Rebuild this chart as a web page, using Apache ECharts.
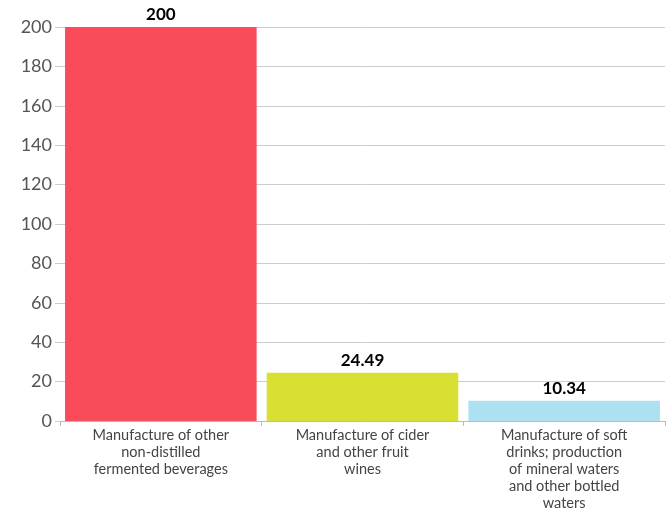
<!DOCTYPE html>
<html><head><meta charset="utf-8">
<script src="https://cdn.jsdelivr.net/npm/echarts@6/dist/echarts.min.js"></script>
<style>html,body{margin:0;padding:0;background:#fff}#c{width:671px;height:512px}</style>
</head><body><div id="c"></div>
<script>
const categories = ["Manufacture of other non-distilled fermented beverages", "Manufacture of cider and other fruit wines", "Manufacture of soft drinks; production of mineral waters and other bottled waters"];
const categoryLabels = ["Manufacture of other\nnon-distilled\nfermented beverages", "Manufacture of cider\nand other fruit\nwines", "Manufacture of soft\ndrinks; production\nof mineral waters\nand other bottled\nwaters"];
const values = [200, 24.49, 10.34];
const colors = ["#fa4b5a", "#d9e032", "#ade1f2"];
const yTicks = [0, 20, 40, 60, 80, 100, 120, 140, 160, 180, 200];

const chart = echarts.init(document.getElementById('c'));
chart.setOption({
  animation: false,
  grid: {left: 60, right: 6, top: 27, bottom: 88},
  xAxis: {
    type: 'category', data: categories,
    axisLine: {lineStyle: {color: '#bbb'}},
    axisTick: {show: true, lineStyle: {color: '#bbb'}, length: 5},
    axisLabel: {interval: 0, color: '#444', fontSize: 14.5, lineHeight: 17, fontFamily: 'Lato', margin: 6,
      formatter: (v, i) => categoryLabels[categories.indexOf(v)]}
  },
  yAxis: {
    type: 'value', min: 0, max: 200, interval: 20,
    axisLine: {show: false},
    axisTick: {show: true, length: 5, lineStyle: {color: '#ccc'}},
    splitLine: {lineStyle: {color: '#ccc'}},
    axisLabel: {color: '#555', fontSize: 18, fontFamily: 'Lato', margin: 8,
      formatter: v => yTicks.includes(v) ? String(v) : ''}
  },
  series: [{
    type: 'bar', barCategoryGap: '5%',
    data: values.map((v, i) => ({value: v, itemStyle: {color: colors[i]}})),
    label: {show: true, position: 'top', color: '#000', fontWeight: 'bold', fontSize: 17, fontFamily: 'Lato', distance: 4}
  }]
});
</script></body></html>
